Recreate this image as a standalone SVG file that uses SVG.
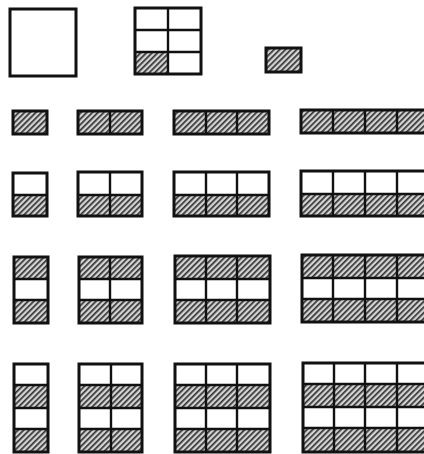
<svg xmlns="http://www.w3.org/2000/svg" width="424" height="454" viewBox="0 0 424 454">
<defs>
<pattern id="h" patternUnits="userSpaceOnUse" width="4" height="4" patternTransform="rotate(45)">
<rect width="4" height="4" fill="#d4d4d4"/>
<rect x="0" y="0" width="1.7" height="4" fill="#333"/>
</pattern>
</defs>
<style>
.o{fill:none;stroke:#111;stroke-width:3}
.d{stroke:#111;stroke-width:2.4}
.s{fill:url(#h)}
</style>
<rect width="424" height="454" fill="#fff"/>
<g id="square"><rect class="o" x="10" y="9" width="66" height="67"/></g>
<g id="grid6">
<rect class="s" x="135" y="52" width="33" height="22"/>
<rect class="o" x="135" y="8" width="66" height="66"/>
<line class="d" x1="135" y1="30" x2="201" y2="30"/><line class="d" x1="135" y1="52" x2="201" y2="52"/><line class="d" x1="168" y1="8" x2="168" y2="74"/>
</g>
<g id="unit"><rect class="s" x="266" y="48" width="35" height="24"/><rect class="o" x="266" y="48" width="35" height="24"/></g>

<g id="r1c1"><rect class="s" x="13" y="111" width="34" height="23"/><rect class="o" x="13" y="111" width="34" height="23"/></g>
<g id="r1c2"><rect class="s" x="78" y="111" width="64" height="23"/><rect class="o" x="78" y="111" width="64" height="23"/><line class="d" x1="110" y1="111" x2="110" y2="134"/></g>
<g id="r1c3"><rect class="s" x="174" y="111" width="95" height="23"/><rect class="o" x="174" y="111" width="95" height="23"/><line class="d" x1="206" y1="111" x2="206" y2="134"/><line class="d" x1="237" y1="111" x2="237" y2="134"/></g>
<g id="r1c4"><rect class="s" x="301" y="110" width="128" height="23"/><rect class="o" x="301" y="110" width="128" height="23"/><line class="d" x1="333" y1="110" x2="333" y2="133"/><line class="d" x1="365" y1="110" x2="365" y2="133"/><line class="d" x1="397" y1="110" x2="397" y2="133"/></g>

<g id="r2c1"><rect class="s" x="13" y="195" width="34" height="21"/><rect class="o" x="13" y="173" width="34" height="43"/><line class="d" x1="13" y1="195" x2="47" y2="195"/></g>
<g id="r2c2"><rect class="s" x="78" y="195" width="64" height="21"/><rect class="o" x="78" y="172" width="64" height="44"/><line class="d" x1="78" y1="195" x2="142" y2="195"/><line class="d" x1="110" y1="172" x2="110" y2="216"/></g>
<g id="r2c3"><rect class="s" x="174" y="195" width="95" height="21"/><rect class="o" x="174" y="172" width="95" height="44"/><line class="d" x1="174" y1="195" x2="269" y2="195"/><line class="d" x1="206" y1="172" x2="206" y2="216"/><line class="d" x1="237" y1="172" x2="237" y2="216"/></g>
<g id="r2c4"><rect class="s" x="301" y="194" width="128" height="22"/><rect class="o" x="301" y="171" width="128" height="45"/><line class="d" x1="301" y1="194" x2="429" y2="194"/><line class="d" x1="333" y1="171" x2="333" y2="216"/><line class="d" x1="365" y1="171" x2="365" y2="216"/><line class="d" x1="397" y1="171" x2="397" y2="216"/></g>

<g id="r3c1"><rect class="s" x="14" y="257" width="34" height="22"/><rect class="s" x="14" y="300" width="34" height="23"/><rect class="o" x="14" y="257" width="34" height="66"/><line class="d" x1="14" y1="279" x2="48" y2="279"/><line class="d" x1="14" y1="300" x2="48" y2="300"/></g>
<g id="r3c2"><rect class="s" x="79" y="257" width="63" height="22"/><rect class="s" x="79" y="300" width="63" height="23"/><rect class="o" x="79" y="257" width="63" height="66"/><line class="d" x1="79" y1="279" x2="142" y2="279"/><line class="d" x1="79" y1="300" x2="142" y2="300"/><line class="d" x1="110" y1="257" x2="110" y2="323"/></g>
<g id="r3c3"><rect class="s" x="175" y="256" width="95" height="23"/><rect class="s" x="175" y="300" width="95" height="23"/><rect class="o" x="175" y="256" width="95" height="67"/><line class="d" x1="175" y1="279" x2="270" y2="279"/><line class="d" x1="175" y1="300" x2="270" y2="300"/><line class="d" x1="206" y1="256" x2="206" y2="323"/><line class="d" x1="237" y1="256" x2="237" y2="323"/></g>
<g id="r3c4"><rect class="s" x="302" y="255" width="127" height="23"/><rect class="s" x="302" y="299" width="127" height="23"/><rect class="o" x="302" y="255" width="127" height="67"/><line class="d" x1="302" y1="278" x2="429" y2="278"/><line class="d" x1="302" y1="299" x2="429" y2="299"/><line class="d" x1="333" y1="255" x2="333" y2="322"/><line class="d" x1="365" y1="255" x2="365" y2="322"/><line class="d" x1="397" y1="255" x2="397" y2="322"/></g>

<g id="r4c1"><rect class="s" x="14" y="385" width="34" height="23"/><rect class="s" x="14" y="429" width="34" height="23"/><rect class="o" x="14" y="364" width="34" height="88"/><line class="d" x1="14" y1="385" x2="48" y2="385"/><line class="d" x1="14" y1="408" x2="48" y2="408"/><line class="d" x1="14" y1="429" x2="48" y2="429"/></g>
<g id="r4c2"><rect class="s" x="79" y="385" width="63" height="23"/><rect class="s" x="79" y="429" width="63" height="23"/><rect class="o" x="79" y="364" width="63" height="88"/><line class="d" x1="79" y1="385" x2="142" y2="385"/><line class="d" x1="79" y1="408" x2="142" y2="408"/><line class="d" x1="79" y1="429" x2="142" y2="429"/><line class="d" x1="111" y1="364" x2="111" y2="452"/></g>
<g id="r4c3"><rect class="s" x="175" y="385" width="95" height="23"/><rect class="s" x="175" y="429" width="95" height="23"/><rect class="o" x="175" y="364" width="95" height="88"/><line class="d" x1="175" y1="385" x2="270" y2="385"/><line class="d" x1="175" y1="408" x2="270" y2="408"/><line class="d" x1="175" y1="429" x2="270" y2="429"/><line class="d" x1="206" y1="364" x2="206" y2="452"/><line class="d" x1="237" y1="364" x2="237" y2="452"/></g>
<g id="r4c4"><rect class="s" x="303" y="384" width="126" height="23"/><rect class="s" x="303" y="428" width="126" height="24"/><rect class="o" x="303" y="363" width="126" height="89"/><line class="d" x1="303" y1="384" x2="429" y2="384"/><line class="d" x1="303" y1="407" x2="429" y2="407"/><line class="d" x1="303" y1="428" x2="429" y2="428"/><line class="d" x1="334" y1="363" x2="334" y2="452"/><line class="d" x1="365" y1="363" x2="365" y2="452"/><line class="d" x1="397" y1="363" x2="397" y2="452"/></g>
<g id="connectors"/>
</svg>
